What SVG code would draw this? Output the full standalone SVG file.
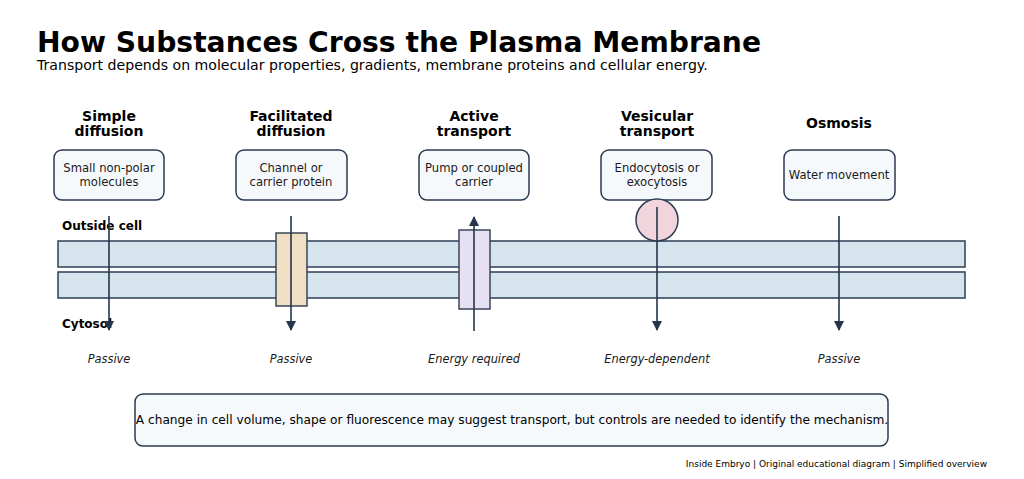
<svg xmlns="http://www.w3.org/2000/svg" width="1024" height="479" viewBox="0 0 1024 479">
<style>
text{font-family:"DejaVu Sans",sans-serif;fill:#000}
.title{font-size:28.2px;font-weight:bold}
.sub{font-size:14.1px}
.hdr{font-size:14px;font-weight:bold;text-anchor:middle}
.box{fill:#f5f9fc;stroke:#2b3a50;stroke-width:1.5}
.bt{font-size:11.6px;text-anchor:middle;fill:#1a1a1a}
.lab{font-size:12px;font-weight:bold}
.mem{fill:#d6e4ee;stroke:#2e3e55;stroke-width:1.5}
.arr{stroke:#25354b;stroke-width:1.6;fill:none}
.it{font-size:11.4px;font-style:italic;text-anchor:middle;fill:#1a1a1a}
</style>
<defs>
<marker id="ah" viewBox="0 0 10 10" refX="9" refY="5" markerWidth="10" markerHeight="10" markerUnits="userSpaceOnUse" orient="auto">
<path d="M0,0 L10,5 L0,10 z" fill="#25354b"/>
</marker>
</defs>
<rect width="1024" height="479" fill="#fff"/>
<text class="title" x="37" y="52">How Substances Cross the Plasma Membrane</text>
<text class="sub" x="37" y="69.5">Transport depends on molecular properties, gradients, membrane proteins and cellular energy.</text>

<g id="membrane">
<rect class="mem" x="58" y="241" width="907" height="26"/>
<rect class="mem" x="58" y="272" width="907" height="26"/>
<text class="lab" x="62" y="230">Outside cell</text>
<text class="lab" x="62" y="328">Cytosol</text>
</g>

<g id="simple">
<text class="hdr" x="109" y="120.5">Simple</text>
<text class="hdr" x="109" y="135.5">diffusion</text>
<rect class="box" x="54" y="150" width="110" height="50" rx="8"/>
<text class="bt" x="109" y="172">Small non-polar</text>
<text class="bt" x="109" y="186">molecules</text>
<text class="it" x="109" y="363">Passive</text>
</g>

<g id="facilitated">
<text class="hdr" x="291" y="120.5">Facilitated</text>
<text class="hdr" x="291" y="135.5">diffusion</text>
<rect class="box" x="236" y="150" width="111" height="50" rx="8"/>
<text class="bt" x="291" y="172">Channel or</text>
<text class="bt" x="291" y="186">carrier protein</text>
<rect x="276" y="233" width="31" height="73" fill="#f0dfc3" stroke="#3a4658" stroke-width="1.5"/>
<text class="it" x="291" y="363">Passive</text>
</g>

<g id="active">
<text class="hdr" x="474" y="120.5">Active</text>
<text class="hdr" x="474" y="135.5">transport</text>
<rect class="box" x="419" y="150" width="110" height="50" rx="8"/>
<text class="bt" x="474" y="172">Pump or coupled</text>
<text class="bt" x="474" y="186">carrier</text>
<rect x="459" y="230" width="31" height="79" fill="#e6e0f2" stroke="#3a4658" stroke-width="1.5"/>
<text class="it" x="474" y="363">Energy required</text>
</g>

<g id="vesicular">
<text class="hdr" x="657" y="120.5">Vesicular</text>
<text class="hdr" x="657" y="135.5">transport</text>
<rect class="box" x="601" y="150" width="111" height="50" rx="8"/>
<text class="bt" x="657" y="172">Endocytosis or</text>
<text class="bt" x="657" y="186">exocytosis</text>
<circle cx="657" cy="220" r="21" fill="#f2d5dc" stroke="#2e3e55" stroke-width="1.5"/>
<text class="it" x="657" y="363">Energy-dependent</text>
</g>

<g id="osmosis">
<text class="hdr" x="839" y="128">Osmosis</text>
<rect class="box" x="784" y="150" width="111" height="50" rx="8"/>
<text class="bt" x="839" y="179">Water movement</text>
<text class="it" x="839" y="363">Passive</text>
</g>

<g id="connectors">
<line class="arr" x1="109" y1="216" x2="109" y2="330" marker-end="url(#ah)"/>
<line class="arr" x1="291" y1="216" x2="291" y2="330" marker-end="url(#ah)"/>
<line class="arr" x1="474" y1="331" x2="474" y2="217" marker-end="url(#ah)"/>
<line class="arr" x1="657" y1="207" x2="657" y2="330" marker-end="url(#ah)"/>
<line class="arr" x1="839" y1="216" x2="839" y2="330" marker-end="url(#ah)"/>
</g>

<g id="note">
<rect class="box" x="135" y="394" width="753" height="52" rx="8"/>
<text x="512" y="424" font-size="12.2" text-anchor="middle" fill="#1a1a1a">A change in cell volume, shape or fluorescence may suggest transport, but controls are needed to identify the mechanism.</text>
</g>
<text x="987" y="467" font-size="9" text-anchor="end" fill="#444">Inside Embryo | Original educational diagram | Simplified overview</text>
</svg>
